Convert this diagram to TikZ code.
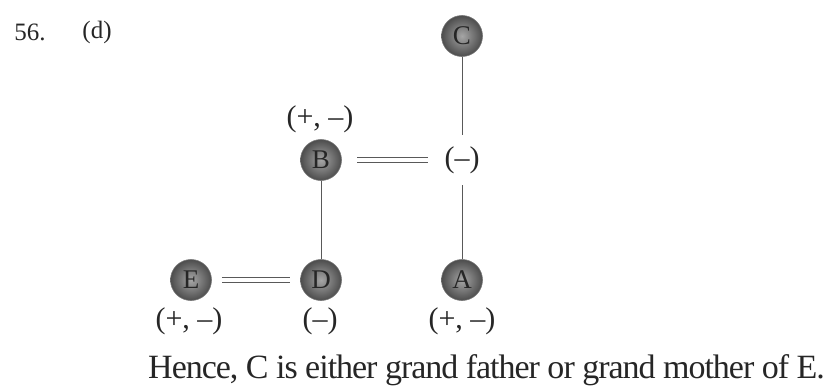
\documentclass[tikz,border=0pt]{standalone}
\usepackage{fontspec}
\setmainfont{Liberation Serif}
\begin{document}
\begin{tikzpicture}[x=1pt,y=-1pt,
  person/.style={circle,minimum size=41pt,inner sep=0pt,draw=black!55,line width=0.6pt,
    shading=radial,inner color=black!35,outer color=black!70,
    font=\fontsize{27}{27}\selectfont,text=black!85},
  lbl/.style={font=\fontsize{30}{30}\selectfont,inner sep=0pt,text=black!85},
  rel/.style={draw=gray!70!black,line width=1pt},
  dbl/.style={draw=gray!70!black,line width=1pt,double distance=4pt}]
\useasboundingbox (0,0) rectangle (831,391);
\node[lbl,font=\fontsize{25}{25}\selectfont] (num) at (30,32) {56.};
\node[lbl,font=\fontsize{25}{25}\selectfont] (opt) at (97,32) {(d)};
\node[person] (C) at (462,36) {C};
\node[lbl] (m) at (462,160) {(--)};
\node[person] (B) at (321,160) {B};
\node[lbl] (Bl) at (320,119) {(+, --)};
\node[person] (E) at (191,280) {E};
\node[person] (D) at (321,280) {D};
\node[person] (A) at (462,280) {A};
\node[lbl] (El) at (189,321) {(+, --)};
\node[lbl] (Dl) at (320,321) {(--)};
\node[lbl] (Al) at (462,321) {(+, --)};
\node[lbl,anchor=west,font=\fontsize{34}{34}\selectfont] (txt) at (148,370) {\addfontfeature{LetterSpace=-3}Hence, C is either grand father or grand mother of E.};
\draw[rel] (C) -- (462,135);
\draw[rel] (462,185) -- (A);
\draw[rel] (B) -- (D);
\path[dbl] (357,160) -- (428,160);
\path[dbl,shorten <=10pt,shorten >=10pt] (E) -- (D);
\end{tikzpicture}
\end{document}
